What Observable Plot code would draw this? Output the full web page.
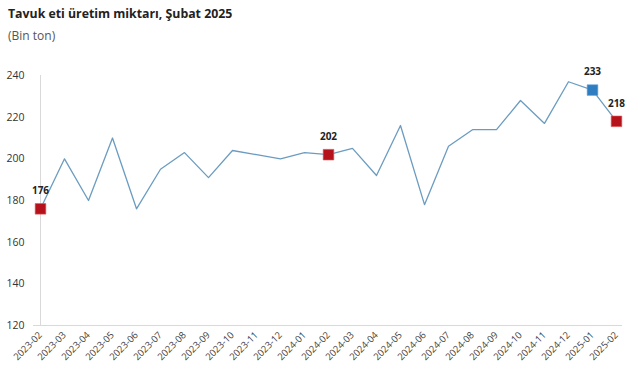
<!DOCTYPE html>
<html><head><meta charset="utf-8">
<script src="https://cdn.jsdelivr.net/npm/d3@7"></script>
<script src="https://cdn.jsdelivr.net/npm/@observablehq/plot@0.6"></script>
<style>
body{margin:0;background:#fff;font-family:"Open Sans",sans-serif;}
#head{height:50px;position:relative;}
#t{position:absolute;left:8px;top:5px;font-size:12.3px;font-weight:700;color:#222;}
#s{position:absolute;left:8px;top:27px;font-size:12px;color:#555;}
</style></head><body>
<div id="head"><div id="t">Tavuk eti üretim miktarı, Şubat 2025</div><div id="s">(Bin ton)</div></div>
<div id="chart"></div>
<script>
const months = ["2023-02","2023-03","2023-04","2023-05","2023-06","2023-07","2023-08","2023-09","2023-10","2023-11","2023-12","2024-01","2024-02","2024-03","2024-04","2024-05","2024-06","2024-07","2024-08","2024-09","2024-10","2024-11","2024-12","2025-01","2025-02"];
const values = [176,200,180,210,176,195,203,191,204,202,200,203,202,205,192,216,178,206,214,214,228,217,237,233,218];
const redMonths = ["2023-02","2024-02","2025-02"];
const blueMonths = ["2025-01"];
const yTicks = [120,140,160,180,200,220,240];

const data = months.map((m,i)=>({m, v: values[i]}));
const red = data.filter(d=>redMonths.includes(d.m));
const blue = data.filter(d=>blueMonths.includes(d.m));
const labeled = red.concat(blue);

const chart = Plot.plot({
  width: 641, height: 330,
  marginLeft: 33, marginRight: 19, marginTop: 25, marginBottom: 55,
  style: {fontFamily: "'Open Sans', sans-serif", fontSize: "10px", color: "#333", background: "#fff"},
  x: {type: "point", domain: months, padding: 0, label: null},
  y: {domain: [120, 240], label: null},
  marks: [
    Plot.ruleX([months[0]], {stroke: "#d9d9d9"}),
    Plot.ruleY([120], {stroke: "#d9d9d9"}),
    Plot.axisY({ticks: yTicks, tickSize: 0, tickPadding: 9, fontSize: 10.5, fill: "#333"}),
    Plot.axisX({tickSize: 0, tickRotate: -45, tickPadding: 8, fontSize: 9.5, fill: "#444"}),
    Plot.line(data, {x: "m", y: "v", stroke: "#6b9cc0", strokeWidth: 1.3}),
    Plot.dot(red, {x: "m", y: "v", symbol: "square", r: 6, fill: "#b5121b", stroke: "#e05a5a", strokeWidth: 0.6}),
    Plot.dot(blue, {x: "m", y: "v", symbol: "square", r: 6, fill: "#2e7dc0", stroke: "#5aa0dc", strokeWidth: 0.6}),
    Plot.text(labeled, {x: "m", y: "v", text: d => String(d.v), dy: -18, fontWeight: 700, fontSize: 10, fill: "#222"})
  ]
});
document.getElementById("chart").appendChild(chart);
</script>
</body></html>
